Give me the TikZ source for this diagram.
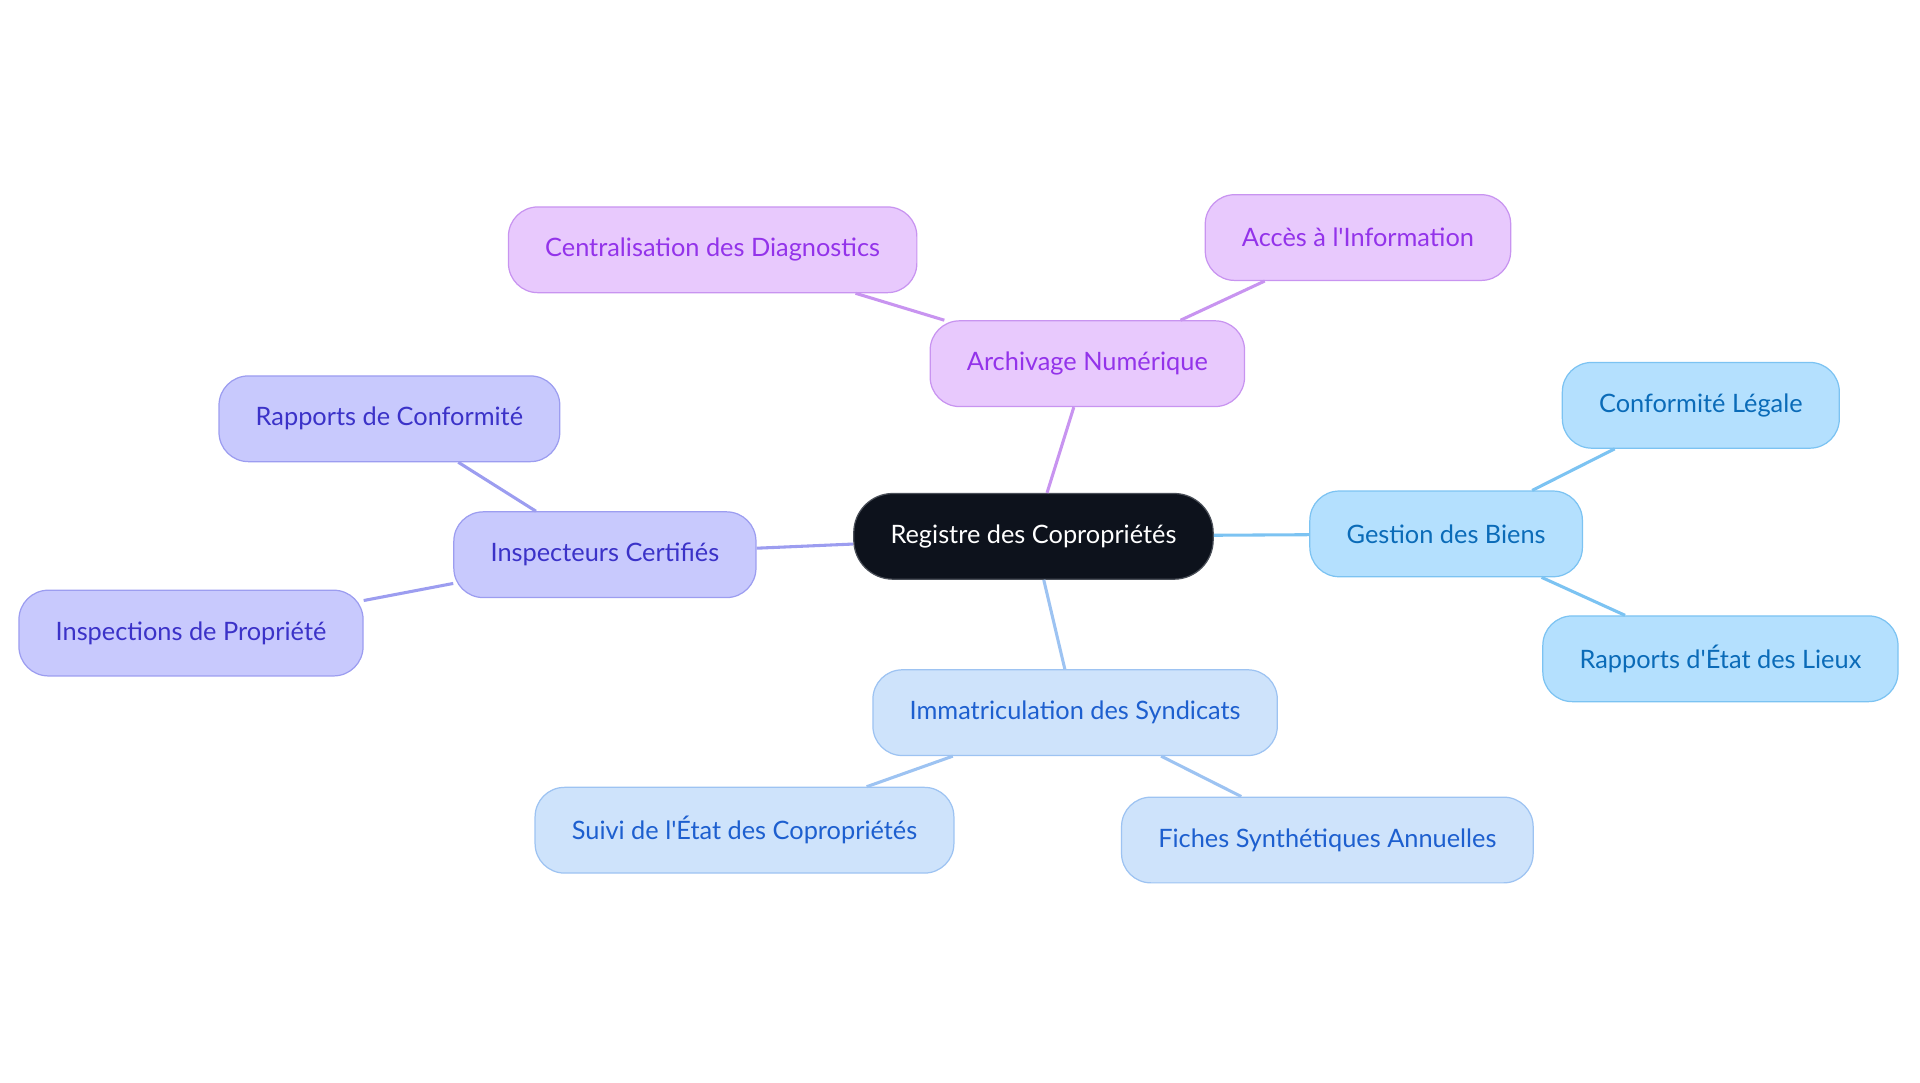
\documentclass[tikz,border=0pt]{standalone}
\usepackage{fontspec}
\setmainfont{Lato}

\definecolor{tumma}{HTML}{0D121C}
\definecolor{harmaa}{HTML}{4A4F58}
\definecolor{vtausta}{HTML}{E8C9FD}
\definecolor{vreuna}{HTML}{C894F0}
\definecolor{vteksti}{HTML}{9333EA}
\definecolor{stausta}{HTML}{B4E0FE}
\definecolor{sreuna}{HTML}{7CC3F2}
\definecolor{steksti}{HTML}{0A6BB8}
\definecolor{ktausta}{HTML}{CEE3FB}
\definecolor{kreuna}{HTML}{9DC3F2}
\definecolor{kteksti}{HTML}{1D5FCF}
\definecolor{itausta}{HTML}{C8C9FD}
\definecolor{ireuna}{HTML}{9C9DF0}
\definecolor{iteksti}{HTML}{3B32C8}

\begin{document}
\begin{tikzpicture}[x=1pt, y=-1pt,
      solmu/.style={draw, line width=1bp, rounded corners=24pt,
        minimum height=70pt, inner xsep=30pt,
        font=\fontsize{20.7}{24}\selectfont},
      viiva/.style={line width=2.5bp}]
      \useasboundingbox (0,0) rectangle (1568,884);

      % Keskisolmu
      \node [solmu, fill=tumma, draw=harmaa, text=white, rounded corners=32pt]
        (rekisteri) at (844,438) {Registre des Copropriétés};

      % Violetti haara
      \node [solmu, fill=vtausta, draw=vreuna, text=vteksti] (arkisto) at (888,297) {Archivage Numérique};
      \node [solmu, fill=vtausta, draw=vreuna, text=vteksti] (diagnostiikka) at (582,204) {Centralisation des Diagnostics};
      \node [solmu, fill=vtausta, draw=vreuna, text=vteksti] (tieto) at (1109,194) {Accès à l\textquotesingle Information};

      % Vaaleansininen haara
      \node [solmu, fill=stausta, draw=sreuna, text=steksti] (hallinta) at (1181,436) {Gestion des Biens};
      \node [solmu, fill=stausta, draw=sreuna, text=steksti] (laki) at (1389,331) {Conformité Légale};
      \node [solmu, fill=stausta, draw=sreuna, text=steksti] (raportit) at (1405,538) {Rapports d\textquotesingle État des Lieux};

      % Sininen haara
      \node [solmu, fill=ktausta, draw=kreuna, text=kteksti] (rekisterointi) at (878,582) {Immatriculation des Syndicats};
      \node [solmu, fill=ktausta, draw=kreuna, text=kteksti] (seuranta) at (608,678) {Suivi de l\textquotesingle État des Copropriétés};
      \node [solmu, fill=ktausta, draw=kreuna, text=kteksti] (kortit) at (1084,686) {Fiches Synthétiques Annuelles};

      % Indigo haara
      \node [solmu, fill=itausta, draw=ireuna, text=iteksti] (tarkastajat) at (494,453) {Inspecteurs Certifiés};
      \node [solmu, fill=itausta, draw=ireuna, text=iteksti] (vaatimukset) at (318,342) {Rapports de Conformité};
      \node [solmu, fill=itausta, draw=ireuna, text=iteksti] (tarkastukset) at (156,517) {Inspections de Propriété};

      % Viivat
      \draw [viiva, draw=vreuna] (rekisteri) -- (arkisto);
      \draw [viiva, draw=vreuna] (arkisto) -- (diagnostiikka);
      \draw [viiva, draw=vreuna] (arkisto) -- (tieto);
      \draw [viiva, draw=sreuna] (rekisteri) -- (hallinta);
      \draw [viiva, draw=sreuna] (hallinta) -- (laki);
      \draw [viiva, draw=sreuna] (hallinta) -- (raportit);
      \draw [viiva, draw=kreuna] (rekisteri) -- (rekisterointi);
      \draw [viiva, draw=kreuna] (rekisterointi) -- (seuranta);
      \draw [viiva, draw=kreuna] (rekisterointi) -- (kortit);
      \draw [viiva, draw=ireuna] (rekisteri) -- (tarkastajat);
      \draw [viiva, draw=ireuna] (tarkastajat) -- (vaatimukset);
      \draw [viiva, draw=ireuna] (tarkastajat) -- (tarkastukset);
    \end{tikzpicture}
\end{document}
